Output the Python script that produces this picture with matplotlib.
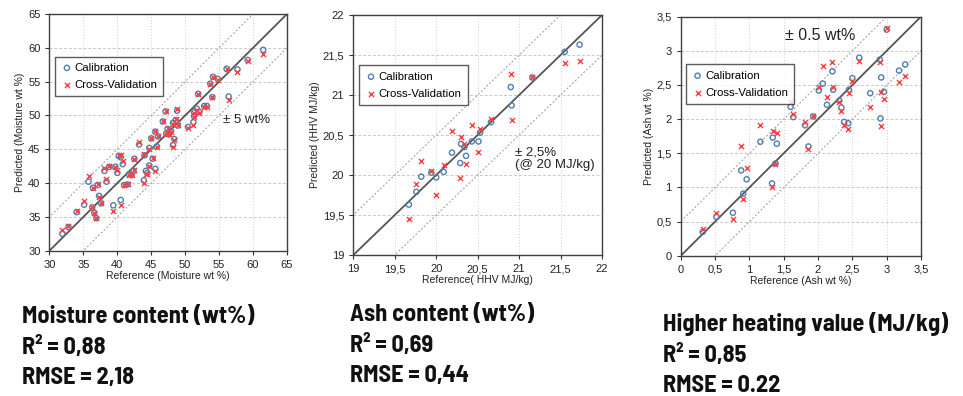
import numpy as np
import matplotlib
matplotlib.use("Agg")
import matplotlib.pyplot as plt
from matplotlib.ticker import FuncFormatter

# ---- data ----
# Moisture (wt%)
moist_ref = [31.9, 32.8, 34.0, 35.1, 35.75, 36.3, 36.4, 36.6, 36.9, 37.1, 37.3, 37.6,
             38.1, 38.4, 38.8, 39.4, 39.7, 40.0, 40.2, 40.5, 40.5, 40.8, 41.0, 41.5,
             41.7, 42.1, 42.4, 42.5, 43.2, 43.9, 44.0, 44.2, 44.4, 44.7, 44.7, 45.0,
             45.2, 45.6, 45.6, 45.8, 46.0, 46.7, 47.1, 47.2, 47.4, 47.6, 47.9, 48.2,
             48.2, 48.4, 48.6, 48.8, 48.9, 50.4, 51.2, 51.3, 51.3, 51.7, 51.9, 52.1,
             52.8, 53.2, 53.7, 54.0, 54.1, 54.8, 56.1, 56.4, 57.7, 59.2, 61.5]
moist_cal = [32.5, 33.5, 35.7, 36.8, 40.2, 36.4, 39.3, 35.6, 34.8, 39.7, 38.1, 37.0,
             41.8, 40.2, 42.4, 36.7, 42.4, 41.5, 44.0, 43.8, 37.5, 42.8, 39.7, 39.8,
             41.3, 41.2, 41.8, 43.6, 45.7, 40.4, 44.1, 41.8, 41.5, 42.6, 45.2, 46.6,
             43.6, 42.1, 47.6, 45.4, 46.9, 49.1, 50.6, 47.3, 48.0, 47.2, 47.7, 45.6,
             48.9, 46.5, 49.3, 50.7, 48.5, 48.3, 49.0, 49.9, 50.5, 51.0, 53.2, 50.5,
             51.4, 51.4, 54.7, 52.7, 55.7, 55.4, 56.9, 52.8, 56.8, 58.2, 59.7]
moist_cv = [33.0, 33.6, 35.9, 37.3, 41.0, 36.4, 39.3, 35.5, 34.8, 39.8, 38.0, 37.0,
            42.3, 40.6, 42.5, 35.9, 42.4, 42.0, 44.1, 44.2, 36.7, 43.2, 39.7, 39.9,
            41.2, 41.2, 41.9, 43.6, 46.0, 40.0, 44.3, 41.4, 41.3, 42.5, 45.1, 46.6,
            43.7, 41.8, 47.7, 45.3, 46.9, 49.2, 50.7, 47.2, 48.1, 47.3, 47.6, 45.3,
            48.8, 46.4, 49.4, 50.9, 48.6, 48.2, 48.6, 49.7, 50.3, 50.8, 53.2, 50.4,
            51.2, 51.2, 54.7, 52.7, 55.7, 55.3, 56.9, 52.3, 56.4, 58.1, 59.1]

# Higher heating value (MJ/kg)
hhv_ref = [19.67, 19.76, 19.82, 19.94, 20.0, 20.09, 20.19, 20.29, 20.3, 20.34,
           20.36, 20.43, 20.51, 20.53, 20.66, 20.9, 20.91, 21.16, 21.55, 21.73]
hhv_cal = [19.63, 19.79, 19.98, 20.03, 19.97, 20.04, 20.28, 20.15, 20.39, 20.35,
           20.24, 20.42, 20.42, 20.53, 20.66, 21.1, 20.87, 21.22, 21.54, 21.63]
hhv_cv = [19.45, 19.89, 20.17, 20.05, 19.75, 20.12, 20.55, 19.96, 20.48, 20.39,
          20.14, 20.62, 20.29, 20.58, 20.7, 21.26, 20.69, 21.22, 21.4, 21.42]

# Ash (wt%)
ash_ref = [0.32, 0.52, 0.76, 0.88, 0.91, 0.96, 1.16, 1.33, 1.34, 1.38, 1.40, 1.60,
           1.64, 1.81, 1.86, 1.93, 2.01, 2.07, 2.13, 2.21, 2.22, 2.31, 2.34, 2.38,
           2.44, 2.45, 2.50, 2.60, 2.76, 2.90, 2.91, 2.92, 2.96, 3.00, 3.18, 3.27]
ash_cal = [0.35, 0.57, 0.63, 1.25, 0.91, 1.12, 1.67, 1.06, 1.73, 1.35, 1.64, 2.18,
           2.03, 1.91, 1.60, 2.04, 2.42, 2.52, 2.21, 2.70, 2.43, 2.27, 2.17, 1.96,
           1.94, 2.43, 2.60, 2.90, 2.38, 2.87, 2.01, 2.61, 2.40, 3.31, 2.71, 2.80]
ash_cv = [0.39, 0.62, 0.54, 1.60, 0.83, 1.28, 1.92, 1.00, 1.83, 1.35, 1.79, 2.25,
          2.08, 1.96, 1.56, 2.04, 2.47, 2.78, 2.32, 2.84, 2.47, 2.25, 2.12, 1.92,
          1.86, 2.38, 2.56, 2.85, 2.18, 2.83, 1.90, 2.39, 2.29, 3.33, 2.54, 2.63]

W, H = 963, 396
fig = plt.figure(figsize=(W / 100, H / 100), dpi=100)
fig.patch.set_facecolor("white")

# narrow bold face for the summary lines (Arial Narrow look-alike)
narrow = ["Barlow Semi Condensed", "Barlow Condensed", "Archivo Narrow",
          "Liberation Sans"]
arial = ["Liberation Sans", "DejaVu Sans"]

blue = "#4f7fb0"
red = "#ff4040"


def comma(v, pos):
    s = f"{v:g}"
    return s.replace(".", ",")


def panel(rect, ref, cal, cv, lo, hi, step, band, xlabel, ylabel, legend_pos):
    ax = fig.add_axes(rect)
    ax.set_xlim(lo, hi)
    ax.set_ylim(lo, hi)
    ticks = np.arange(lo, hi + step / 2, step)
    ax.set_xticks(ticks)
    ax.set_yticks(ticks)
    ax.xaxis.set_major_formatter(FuncFormatter(comma))
    ax.yaxis.set_major_formatter(FuncFormatter(comma))
    ax.tick_params(direction="out", length=3, width=0.8, colors="#333333",
                   labelsize=8, labelcolor="#222222")
    for lab in ax.get_xticklabels() + ax.get_yticklabels():
        lab.set_family(arial)
    ax.yaxis.grid(True, color="#c8c8c8", ls=(0, (3, 2)), lw=0.7)
    ax.xaxis.grid(True, color="#d0d0d0", ls=(0, (1, 2)), lw=0.7)
    ax.set_axisbelow(True)
    for sp in ax.spines.values():
        sp.set_color("#404040")
        sp.set_linewidth(1.0)

    line = np.array([lo - 10, hi + 10])
    ax.plot(line, line, color="#555555", lw=1.3, zorder=2)
    ax.plot(line, line + band, color="#999999", lw=0.7, ls=(0, (2, 2)), zorder=2)
    ax.plot(line, line - band, color="#999999", lw=0.7, ls=(0, (2, 2)), zorder=2)

    ax.scatter(ref, cal, s=14, facecolors="none", edgecolors=blue, lw=1.0,
               label="Calibration", zorder=3)
    ax.scatter(ref, cv, s=14, marker="x", color=red, lw=1.0,
               label="Cross-Validation", zorder=4)

    ax.set_xlabel(xlabel, fontsize=7.5, family=arial, color="#222222", labelpad=1)
    ax.set_ylabel(ylabel, fontsize=7.5, family=arial, color="#222222", labelpad=2)

    leg = ax.legend(loc="upper left", bbox_to_anchor=legend_pos,
                    frameon=True, fancybox=False, handletextpad=0.15,
                    handlelength=1.0, borderpad=0.55, labelspacing=0.6,
                    borderaxespad=0, prop={"family": arial, "size": 8.2})
    leg.get_frame().set_edgecolor("#333333")
    leg.get_frame().set_linewidth(1.0)
    return ax


ax1 = panel([0.0514, 0.367, 0.2466, 0.5976], moist_ref, moist_cal, moist_cv,
            30, 63, 5, 5, "Reference (Moisture wt %)", "Predicted (Moisture wt %)",
            (0.023, 0.82))
ax1.text(55.5, 49.3, "± 5 wt%", fontsize=9.5, family=arial, color="#222222",
         va="center")

ax2 = panel([0.3669, 0.356, 0.2582, 0.606], hhv_ref, hhv_cal, hhv_cv,
            19, 22, 0.5, 0.5, "Reference( HHV MJ/kg)", "Predicted (HHV MJ/kg)",
            (0.023, 0.79))
ax2.text(20.95, 20.2, "± 2,5%\n(@ 20 MJ/kg)", fontsize=9.5, family=arial,
         color="#222222", va="center", linespacing=1.1)

ax3 = panel([0.7069, 0.354, 0.2495, 0.604], ash_ref, ash_cal, ash_cv,
            0, 3.5, 0.5, 0.5, "Reference (Ash wt %)", "Predicted (Ash wt %)",
            (0.02, 0.80))
ax3.text(2.03, 3.22, "± 0.5 wt%", fontsize=11.5, family=arial, color="#222222",
         ha="center", va="center")

# ---- summary text under each panel ----
summaries = [
    (22, 323, "Moisture content (wt%)", "0,88", "2,18"),
    (350, 321, "Ash content (wt%)", "0,69", "0,44"),
    (663, 331, "Higher heating value (MJ/kg)", "0,85", "0.22"),
]
for x, y, title, r2, rmse in summaries:
    for i, s in enumerate([title, f"R² = {r2}", f"RMSE = {rmse}"]):
        fig.text(x / W, 1 - (y + i * 30.5) / H, s, fontsize=17.5,
                 family=narrow, weight="bold", va="baseline", color="#111111")

fig.savefig("out.png", dpi=100)
